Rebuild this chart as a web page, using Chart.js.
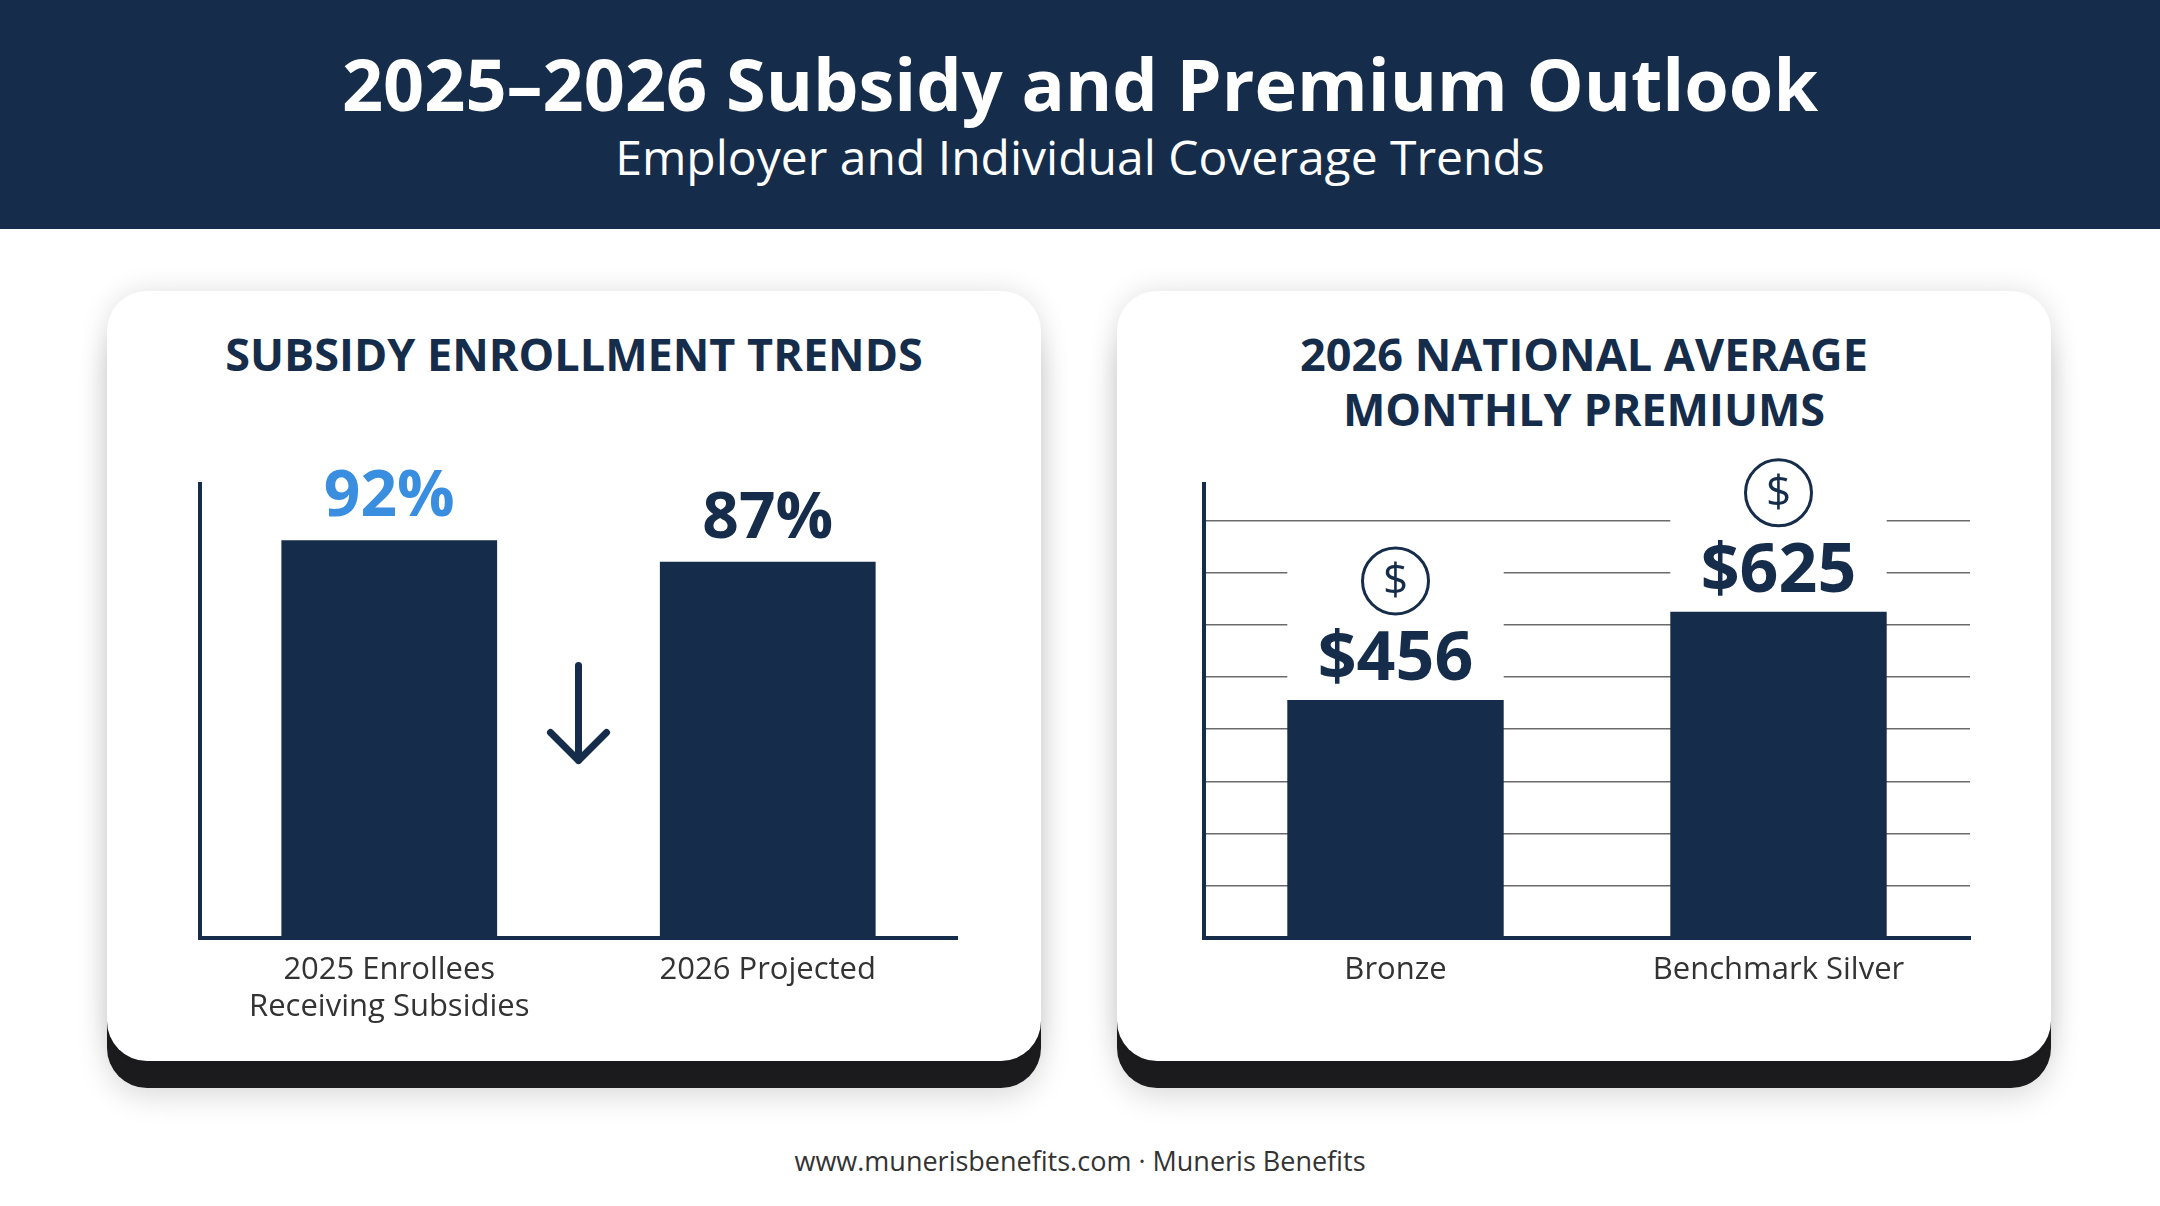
<!DOCTYPE html>
<html>
<head>
<meta charset="utf-8">
<script src="https://cdn.jsdelivr.net/npm/chart.js@4"></script>
<style>
  body { margin:0; width:2160px; height:1206px; background:#fff; font-family:"Open Sans",sans-serif; position:relative; overflow:hidden; }
  .head { position:absolute; left:0; top:0; width:2160px; height:229px; background:#152c4a; color:#fff; text-align:center; }
  .head h1 { margin:0; position:absolute; top:34px; width:100%; font-size:72px; font-weight:700; }
  .head p { margin:0; position:absolute; top:124px; width:100%; font-size:48px; font-weight:400; }
  .base { position:absolute; top:320px; width:934px; height:768px; background:#1c1c1e; border-radius:40px; box-shadow:0 8px 30px rgba(0,0,0,0.15); }
  .card { position:absolute; top:291px; width:934px; height:770px; background:#fff; border-radius:40px; box-shadow:0 0 28px rgba(0,0,0,0.12); }
  h2 { position:absolute; margin:0; top:326px; width:934px; text-align:center; font-size:45px; font-weight:700; color:#152c4a; line-height:55px; }
  .box { position:absolute; }
  .foot { position:absolute; top:1142px; width:100%; text-align:center; font-size:27px; color:#333; }
</style>
</head>
<body>
<div class="head">
  <h1>2025–2026 Subsidy and Premium Outlook</h1>
  <p>Employer and Individual Coverage Trends</p>
</div>
<div class="base" style="left:107px"></div>
<div class="base" style="left:1117px"></div>
<div class="card" style="left:107px"></div>
<div class="card" style="left:1117px"></div>
<h2 style="left:107px">SUBSIDY ENROLLMENT TRENDS</h2>
<h2 style="left:1117px">2026 NATIONAL AVERAGE<br>MONTHLY PREMIUMS</h2>
<div class="box" style="left:150px;top:440px;width:850px;height:600px"><canvas id="left"></canvas></div>
<div class="box" style="left:1150px;top:440px;width:870px;height:600px"><canvas id="right"></canvas></div>
<div class="foot">www.munerisbenefits.com · Muneris Benefits</div>
<script>
const enrollCategories = [['2025 Enrollees', 'Receiving Subsidies'], '2026 Projected'];
const enrollValues = [92, 87];
const enrollLabels = ['92%', '87%'];
const premiumCategories = ['Bronze', 'Benchmark Silver'];
const premiumValues = [456, 625];
const premiumLabels = ['$456', '$625'];

const navy = '#152c4a';
Chart.defaults.font.family = '"Open Sans", sans-serif';
Chart.defaults.animation = false;

function xScale() {
  return {
    grid: { display: false, drawTicks: false },
    border: { color: navy, width: 4 },
    ticks: { color: '#333', font: { size: 31 }, padding: 14 }
  };
}

// value labels, arrow and dollar icons
const leftDeco = {
  id: 'leftDeco',
  afterDatasetsDraw(chart) {
    const ctx = chart.ctx;
    const bars = chart.getDatasetMeta(0).data;
    ctx.save();
    ctx.textAlign = 'center';
    ctx.textBaseline = 'middle';
    ctx.font = '700 64px "Open Sans"';
    bars.forEach((b, i) => {
      ctx.fillStyle = i === 0 ? '#3a8ee0' : navy;
      ctx.fillText(enrollLabels[i], b.x, b.y - 42);
    });
    const y = chart.scales.y;
    const ax = (bars[0].x + bars[1].x) / 2;
    const top = y.getPixelForValue(63), bot = y.getPixelForValue(41);
    ctx.strokeStyle = navy;
    ctx.lineWidth = 7;
    ctx.lineCap = 'round';
    ctx.lineJoin = 'round';
    ctx.beginPath();
    ctx.moveTo(ax, top); ctx.lineTo(ax, bot);
    ctx.moveTo(ax - 28, bot - 28); ctx.lineTo(ax, bot); ctx.lineTo(ax + 28, bot - 28);
    ctx.stroke();
    ctx.restore();
  }
};

const rightDeco = {
  id: 'rightDeco',
  beforeDatasetsDraw(chart) {
    const ctx = chart.ctx;
    ctx.save();
    ctx.fillStyle = '#fff';
    chart.getDatasetMeta(0).data.forEach(b => {
      ctx.fillRect(b.x - b.width / 2, b.y - 165, b.width, 165);
    });
    ctx.restore();
  },
  afterDatasetsDraw(chart) {
    const ctx = chart.ctx;
    ctx.save();
    ctx.textAlign = 'center';
    ctx.textBaseline = 'middle';
    chart.getDatasetMeta(0).data.forEach((b, i) => {
      ctx.fillStyle = navy;
      ctx.font = '700 68px "Open Sans"';
      ctx.fillText(premiumLabels[i], b.x, b.y - 39);
      const cy = b.y - 119;
      ctx.strokeStyle = navy;
      ctx.lineWidth = 3;
      ctx.beginPath();
      ctx.arc(b.x, cy, 33, 0, Math.PI * 2);
      ctx.stroke();
      ctx.font = '400 44px "Open Sans"';
      ctx.fillText('$', b.x, cy + 2);
    });
    ctx.restore();
  }
};

new Chart(document.getElementById('left'), {
  type: 'bar',
  data: {
    labels: enrollCategories,
    datasets: [{ data: enrollValues, backgroundColor: navy, categoryPercentage: 1, barPercentage: 0.57 }]
  },
  options: {
    responsive: true, maintainAspectRatio: false,
    layout: { padding: { left: 50, right: 43, top: 44 } },
    plugins: { legend: { display: false }, tooltip: { enabled: false } },
    scales: {
      x: xScale(),
      y: { min: 0, max: 105, grid: { display: false, drawTicks: false }, border: { color: navy, width: 4 }, ticks: { display: false } }
    }
  },
  plugins: [leftDeco]
});

new Chart(document.getElementById('right'), {
  type: 'bar',
  data: {
    labels: premiumCategories,
    datasets: [{ data: premiumValues, backgroundColor: navy, categoryPercentage: 1, barPercentage: 0.565 }]
  },
  options: {
    responsive: true, maintainAspectRatio: false,
    layout: { padding: { left: 54, right: 50, top: 44, bottom: 37 } },
    plugins: { legend: { display: false }, tooltip: { enabled: false } },
    scales: {
      x: xScale(),
      y: { min: 0, max: 870,
           grid: { color: c => c.tick.value % 100 === 0 ? '#6b6b6b' : 'rgba(0,0,0,0)', lineWidth: 1.5, drawTicks: false },
           border: { color: navy, width: 4 },
           ticks: { display: false, stepSize: 100 } }
    }
  },
  plugins: [rightDeco]
});
</script>
</body>
</html>
